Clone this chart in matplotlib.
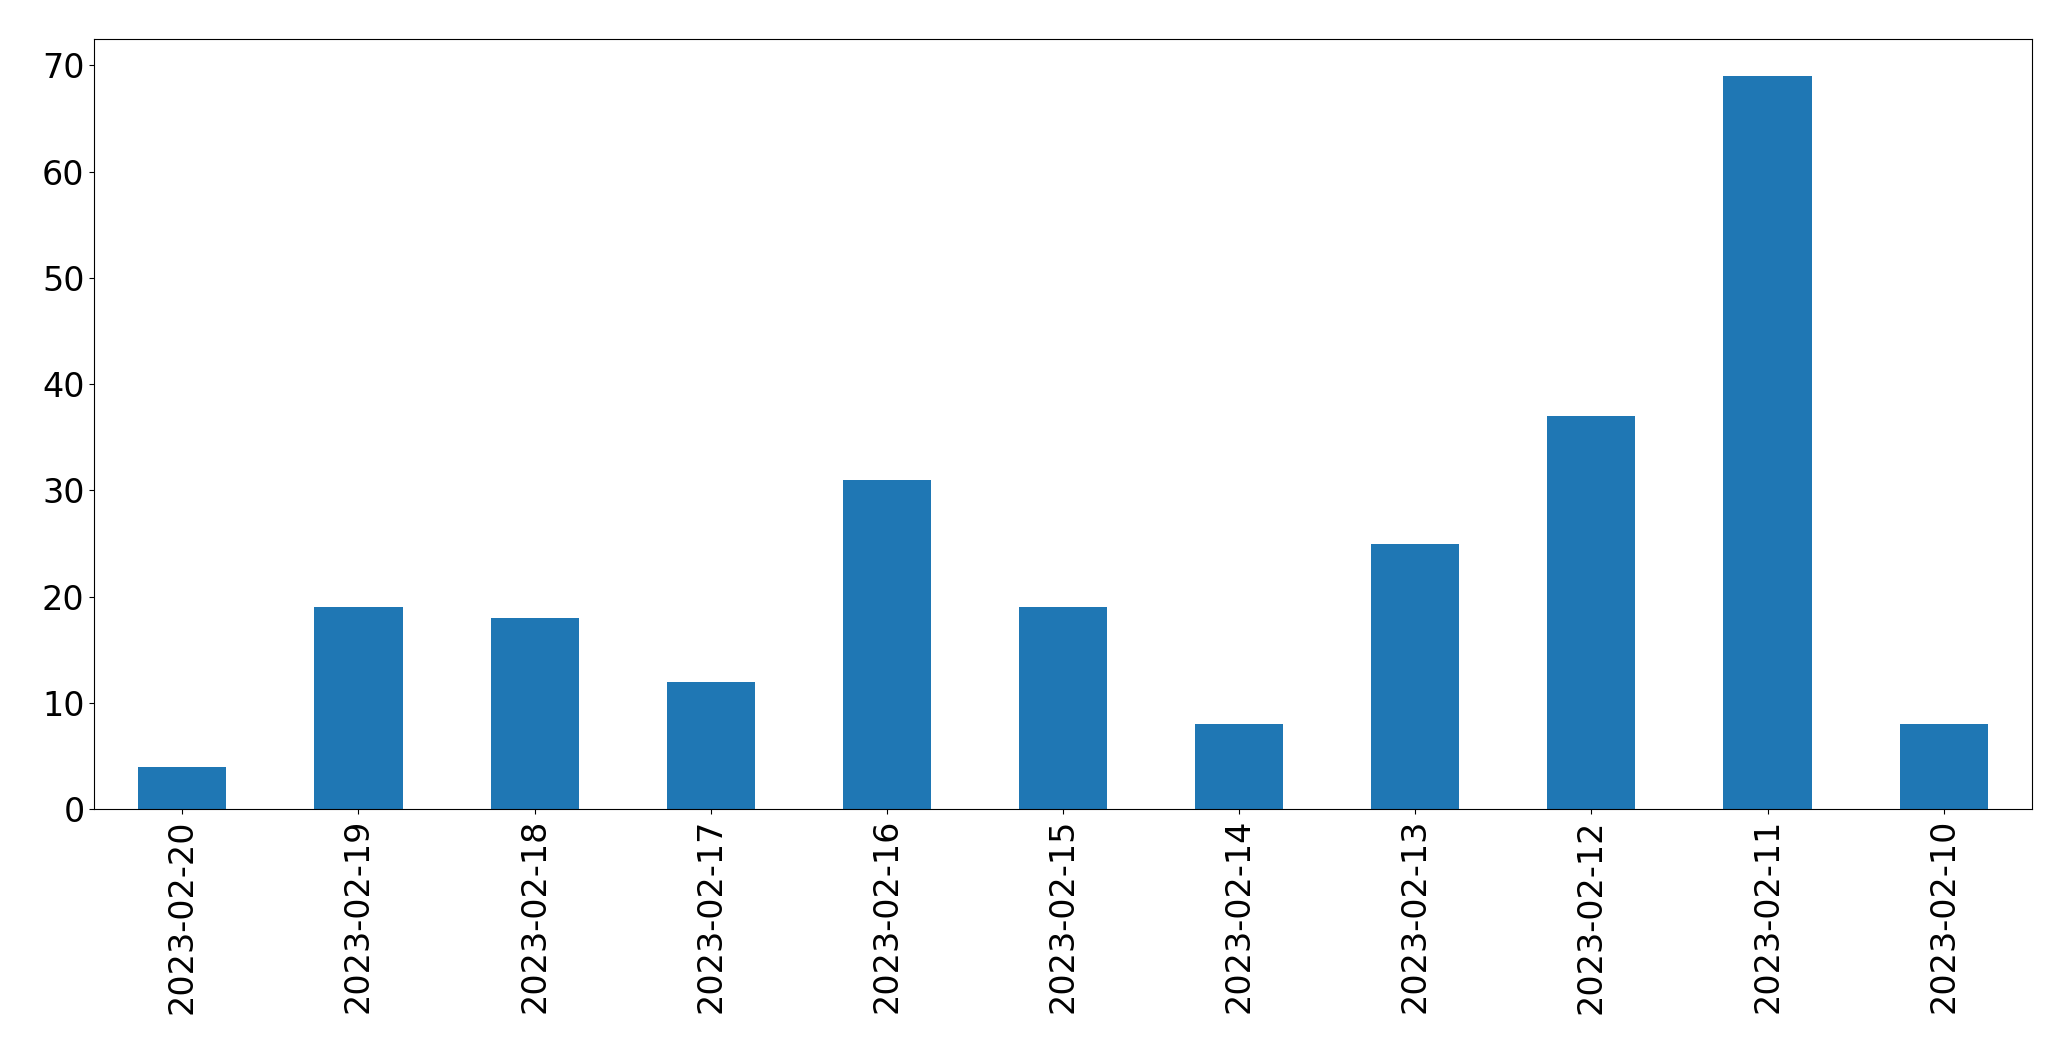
import matplotlib
matplotlib.use("Agg")
import matplotlib.pyplot as plt

dates = ["2023-02-20", "2023-02-19", "2023-02-18", "2023-02-17", "2023-02-16",
         "2023-02-15", "2023-02-14", "2023-02-13", "2023-02-12", "2023-02-11", "2023-02-10"]
counts = [4, 19, 18, 12, 31, 19, 8, 25, 37, 69, 8]

fig = plt.figure(figsize=(20.71, 10.61), dpi=100)
left, right, top, bottom = 94.3 / 2071, 2031.7 / 2071, 1 - 39.3 / 1061, 1 - 809.3 / 1061
ax = fig.add_axes([left, bottom, right - left, top - bottom])
x = list(range(len(dates)))
ax.bar(x, counts, width=0.5, color="#1f77b4")
ax.set_xlim(-0.5, len(dates) - 0.5)
ax.set_xticks(x)
ax.set_xticklabels(dates, rotation=90)
ax.set_yticks([0, 10, 20, 30, 40, 50, 60, 70])
ax.tick_params(labelsize=24)
fig.savefig("out.png", dpi=100)
